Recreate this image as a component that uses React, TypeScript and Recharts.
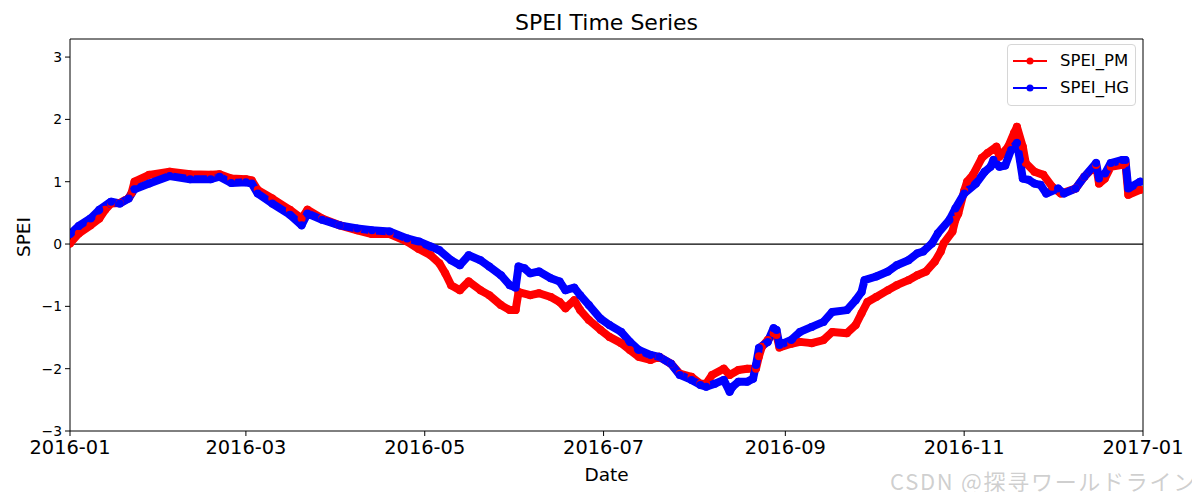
import React from "react";
import {
  LineChart,
  Line,
  XAxis,
  YAxis,
  ReferenceLine,
  Legend,
} from "recharts";

// day of year (0 = 2016-01-01) and SPEI values
const pmDays = [
  0, 3, 7, 10, 12, 14, 17, 20, 21, 22, 27, 34, 41, 48, 51, 55, 60, 62, 64, 69,
  75, 79, 81, 86, 92, 98, 103, 109, 115, 119, 123, 126, 128, 130, 133, 136,
  140, 143, 147, 150, 152, 153, 157, 160, 164, 167, 169, 172, 174, 177, 181,
  184, 188, 191, 194, 198, 201, 205, 208, 212, 215, 217, 219, 223, 225, 228,
  231, 234, 235, 236, 238, 240, 241, 242, 246, 249, 253, 257, 260, 265, 268,
  270, 272, 275, 279, 282, 286, 289, 292, 295, 297, 298, 301, 302, 303, 305,
  306, 308, 311, 313, 316, 317, 320, 322, 323, 325, 326, 329, 332, 335, 338,
  343, 346, 350, 351, 353, 355, 359, 360, 361, 365,
];
const pmValues = [
  0.01, 0.17, 0.3, 0.41, 0.55, 0.65, 0.66, 0.74, 0.82, 1.0, 1.11, 1.16, 1.12,
  1.11, 1.12, 1.05, 1.04, 1.02, 0.87, 0.73, 0.55, 0.41, 0.55, 0.41, 0.3, 0.22,
  0.16, 0.16, 0.04, -0.08, -0.18, -0.31, -0.47, -0.66, -0.74, -0.6, -0.74,
  -0.82, -0.98, -1.06, -1.06, -0.77, -0.82, -0.79, -0.85, -0.93, -1.03, -0.9,
  -1.06, -1.22, -1.38, -1.49, -1.59, -1.7, -1.81, -1.86, -1.81, -1.92, -2.08,
  -2.13, -2.24, -2.24, -2.1, -2.0, -2.1, -2.02, -2.0, -2.0, -1.8, -1.65, -1.54,
  -1.43, -1.46, -1.66, -1.6, -1.57, -1.59, -1.54, -1.41, -1.43, -1.3, -1.11,
  -0.93, -0.85, -0.74, -0.66, -0.58, -0.5, -0.44, -0.28, -0.12, 0.01, 0.2,
  0.39, 0.49, 0.85, 1.0, 1.11, 1.38, 1.46, 1.56, 1.4, 1.56, 1.78, 1.88, 1.56,
  1.3, 1.16, 1.11, 0.92, 0.81, 0.89, 1.08, 1.27, 0.97, 1.05, 1.24, 1.27, 1.3,
  0.79, 0.87,
];

const hgDays = [
  0, 3, 7, 10, 14, 17, 20, 22, 27, 34, 41, 48, 51, 55, 60, 62, 64, 69, 75, 79,
  81, 86, 92, 98, 103, 109, 115, 119, 123, 126, 130, 133, 136, 140, 143, 147,
  150, 152, 153, 155, 157, 160, 164, 167, 169, 172, 174, 177, 181, 184, 188,
  191, 194, 198, 201, 205, 208, 212, 215, 217, 220, 223, 225, 226, 228, 231,
  233, 234, 235, 238, 240, 241, 242, 246, 249, 253, 257, 260, 265, 268, 270,
  271, 275, 279, 282, 286, 289, 291, 294, 296, 300, 302, 305, 309, 312, 314,
  315, 317, 319, 321, 323, 324, 325, 327, 329, 331, 333, 337, 339, 343, 346,
  350, 351, 353, 355, 359, 360, 361, 365,
];
const hgValues = [
  0.16, 0.29, 0.41, 0.55, 0.68, 0.65, 0.73, 0.88, 0.97, 1.09, 1.04, 1.04, 1.08,
  0.98, 0.99, 0.97, 0.81, 0.65, 0.47, 0.3, 0.49, 0.39, 0.3, 0.25, 0.22, 0.2,
  0.09, 0.04, -0.04, -0.1, -0.26, -0.34, -0.18, -0.26, -0.36, -0.5, -0.66,
  -0.7, -0.36, -0.39, -0.47, -0.44, -0.55, -0.6, -0.74, -0.7, -0.82, -0.98,
  -1.2, -1.3, -1.41, -1.57, -1.7, -1.78, -1.81, -1.92, -2.1, -2.18, -2.26,
  -2.29, -2.24, -2.18, -2.37, -2.29, -2.21, -2.21, -2.16, -1.94, -1.67, -1.57,
  -1.35, -1.38, -1.62, -1.54, -1.41, -1.33, -1.25, -1.09, -1.06, -0.9, -0.77,
  -0.58, -0.52, -0.44, -0.34, -0.26, -0.15, -0.12, 0.01, 0.17, 0.39, 0.57,
  0.81, 0.97, 1.16, 1.24, 1.35, 1.24, 1.26, 1.51, 1.62, 1.35, 1.05, 1.03, 0.97,
  0.95, 0.81, 0.89, 0.81, 0.89, 1.08, 1.3, 1.05, 1.13, 1.3, 1.35, 1.35, 0.89,
  1.0,
];

const seriesNames = ["SPEI_PM", "SPEI_HG"];
const seriesColors = ["#ff0000", "#0000ff"];

const xTickDays = [0, 60, 121, 182, 244, 305, 366];
const xTickLabels = [
  "2016-01",
  "2016-03",
  "2016-05",
  "2016-07",
  "2016-09",
  "2016-11",
  "2017-01",
];
const yTicks = [-3, -2, -1, 0, 1, 2, 3];
const xDomain = [0, 366];
const yDomain = [-3, 3.29];

const pmData = pmDays.map((day, i) => ({ day, value: pmValues[i] }));
const hgData = hgDays.map((day, i) => ({ day, value: hgValues[i] }));

const FONT = "'DejaVu Sans', sans-serif";

const fmtY = (v: number) => (v < 0 ? "\u2212" + Math.abs(v) : String(v));
const fmtX = (v: number) => xTickLabels[xTickDays.indexOf(v)] ?? "";

const XLabel = (props: any) => {
  const vb = props.viewBox || {};
  return (
    <text
      x={vb.x + vb.width / 2}
      y={vb.y + 50}
      textAnchor="middle"
      fontSize={18.5}
      fontFamily={FONT}
      fill="#000"
    >
      Date
    </text>
  );
};

const YLabel = (props: any) => {
  const vb = props.viewBox || {};
  const cx = vb.x + 22;
  const cy = vb.y + vb.height / 2 + 2;
  return (
    <text
      x={cx}
      y={cy}
      transform={`rotate(-90, ${cx}, ${cy})`}
      textAnchor="middle"
      fontSize={18.5}
      fontFamily={FONT}
      fill="#000"
    >
      SPEI
    </text>
  );
};

const LegendBox = () => (
  <div
    style={{
      border: "1px solid #d6d6d6",
      borderRadius: 4,
      background: "#fff",
      width: 127,
      height: 60,
      boxSizing: "content-box",
      fontFamily: FONT,
      fontSize: 16.5,
      color: "#000",
    }}
  >
    {seriesNames.map((name, i) => (
      <div
        key={name}
        style={{
          position: "absolute",
          left: 5,
          top: 7 + i * 27,
          height: 20,
          display: "flex",
          alignItems: "center",
        }}
      >
        <svg width={36} height={12}>
          <line x1={1} y1={6} x2={35} y2={6} stroke={seriesColors[i]} strokeWidth={2} />
          <circle cx={18} cy={6} r={3.5} fill={seriesColors[i]} />
        </svg>
        <span style={{ marginLeft: 12, lineHeight: "20px" }}>{name}</span>
      </div>
    ))}
  </div>
);

const App = () => {
  return (
    <div style={{ position: "relative", width: 1184, height: 484, background: "#fff" }}>
      <div
        style={{
          position: "absolute",
          left: 62,
          width: 1073,
          top: 4,
          textAlign: "center",
          fontFamily: FONT,
          fontSize: 22,
          lineHeight: "22px",
          color: "#000",
        }}
      >
        SPEI Time Series
      </div>
      <LineChart
        width={1184}
        height={484}
        margin={{ top: 31, right: 49, bottom: 0, left: 0 }}
      >
        <XAxis
          dataKey="day"
          type="number"
          domain={xDomain}
          ticks={xTickDays}
          tickFormatter={fmtX}
          allowDataOverflow
          height={61}
          stroke="#000"
          tickSize={5}
          tickMargin={4}
          tick={{ fill: "#000", fontSize: 19.4, fontFamily: FONT }}
          label={<XLabel />}
        />
        <YAxis
          type="number"
          domain={yDomain}
          ticks={yTicks}
          tickFormatter={fmtY}
          allowDataOverflow
          width={62}
          stroke="#000"
          tickSize={5}
          tickMargin={3}
          tick={{ fill: "#000", fontSize: 13.9, fontFamily: FONT }}
          label={<YLabel />}
        />
        {/* plot frame: top and right spines */}
        <ReferenceLine y={yDomain[1]} stroke="#000" strokeWidth={1} />
        <ReferenceLine x={xDomain[1]} stroke="#000" strokeWidth={1} />
        <ReferenceLine y={0} stroke="#000" strokeWidth={1.3} />
        <Line
          data={pmData}
          dataKey="value"
          name={seriesNames[0]}
          stroke={seriesColors[0]}
          strokeWidth={8}
          strokeLinejoin="round"
          strokeLinecap="round"
          dot={{ r: 4, fill: seriesColors[0], stroke: "none" }}
          isAnimationActive={false}
        />
        <Line
          data={hgData}
          dataKey="value"
          name={seriesNames[1]}
          stroke={seriesColors[1]}
          strokeWidth={8}
          strokeLinejoin="round"
          strokeLinecap="round"
          dot={{ r: 4, fill: seriesColors[1], stroke: "none" }}
          isAnimationActive={false}
        />
        <Legend
          layout="vertical"
          align="center"
          verticalAlign="middle"
          content={<LegendBox />}
          wrapperStyle={{ position: "absolute", top: 36, left: 999, width: 129, height: 62 }}
        />
      </LineChart>
      <div
        style={{
          position: "absolute",
          left: 882,
          top: 458,
          whiteSpace: "nowrap",
          fontFamily: "'Noto Sans CJK JP', 'Noto Sans', sans-serif",
          fontSize: 22,
          letterSpacing: 1.7,
          lineHeight: "28px",
          color: "rgba(160,160,160,0.5)",
        }}
      >
        CSDN @探寻ワールドライン
      </div>
    </div>
  );
};

export default App;
